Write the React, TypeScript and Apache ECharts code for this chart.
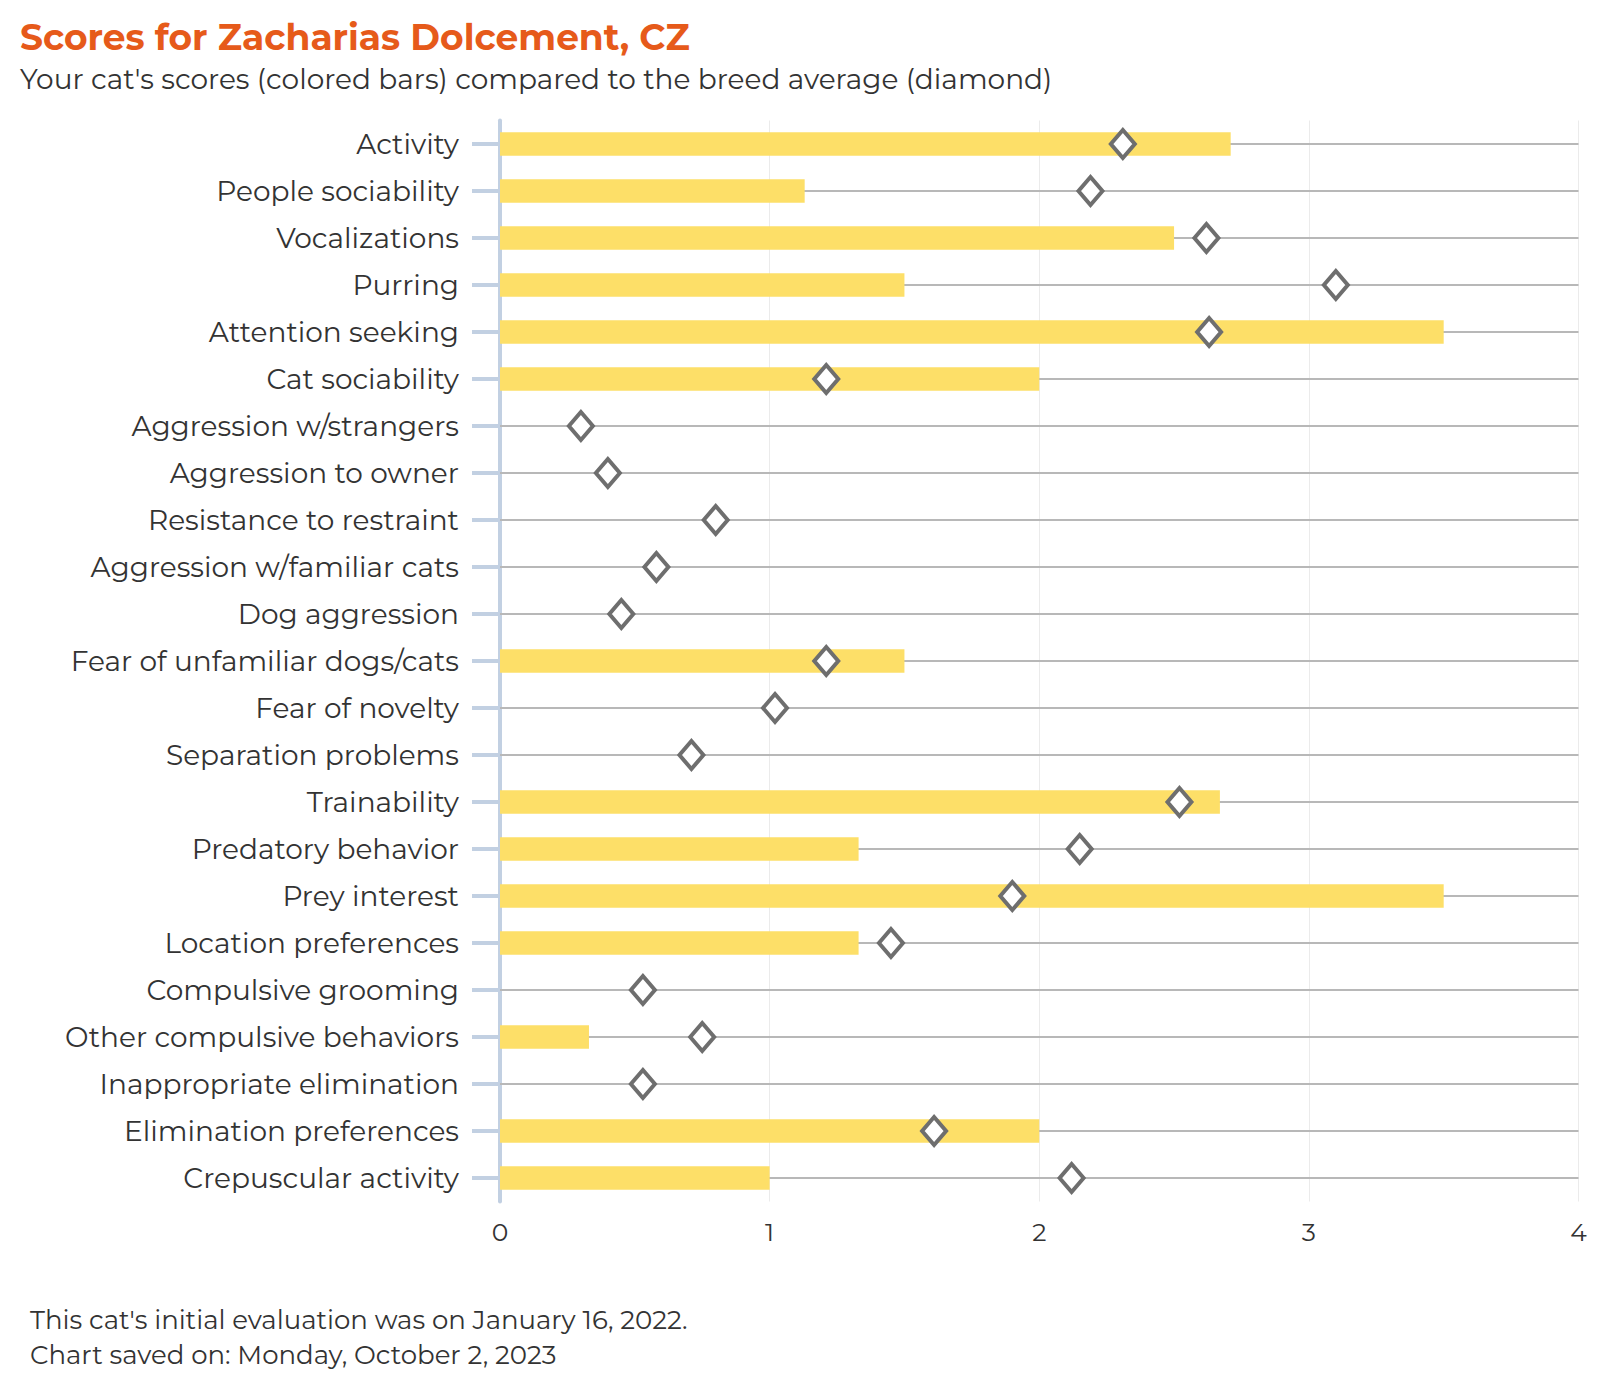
import React, { useEffect, useRef } from "react";
import * as echarts from "echarts";

const categories = [
  "Activity",
  "People sociability",
  "Vocalizations",
  "Purring",
  "Attention seeking",
  "Cat sociability",
  "Aggression w/strangers",
  "Aggression to owner",
  "Resistance to restraint",
  "Aggression w/familiar cats",
  "Dog aggression",
  "Fear of unfamiliar dogs/cats",
  "Fear of novelty",
  "Separation problems",
  "Trainability",
  "Predatory behavior",
  "Prey interest",
  "Location preferences",
  "Compulsive grooming",
  "Other compulsive behaviors",
  "Inappropriate elimination",
  "Elimination preferences",
  "Crepuscular activity",
];

const catScores = [
  2.71, 1.13, 2.5, 1.5, 3.5, 2, 0, 0, 0, 0, 0, 1.5, 0, 0, 2.67, 1.33, 3.5, 1.33, 0,
  0.33, 0, 2, 1,
];

const breedAverage = [
  2.31, 2.19, 2.62, 3.1, 2.63, 1.21, 0.3, 0.4, 0.8, 0.58, 0.45, 1.21, 1.02, 0.71,
  2.52, 2.15, 1.9, 1.45, 0.53, 0.75, 0.53, 1.61, 2.12,
];

const xMin = 0;
const xMax = 4;
const xInterval = 1;

const titleText = "Scores for Zacharias Dolcement, CZ";
const subtitleText =
  "Your cat's scores (colored bars) compared to the breed average (diamond)";
const footerLines = [
  "This cat's initial evaluation was on January 16, 2022.",
  "Chart saved on: Monday, October 2, 2023",
];

const FONT = "Montserrat, 'Open Sans', sans-serif";

export default function App() {
  const ref = useRef<HTMLDivElement>(null);

  useEffect(() => {
    if (!ref.current) return;
    const chart = echarts.init(ref.current, null, { renderer: "svg" });
    const option = {
      animation: false,
      backgroundColor: "#ffffff",
      textStyle: { fontFamily: FONT },
      grid: { left: 500, right: 21.5, top: 120.5, height: 1081, containLabel: false },
      xAxis: {
        type: "value",
        min: xMin,
        max: xMax,
        interval: xInterval,
        axisLine: { show: false },
        axisTick: { show: false },
        axisLabel: { color: "#333", fontSize: 25, margin: 18, fontFamily: FONT },
        splitLine: { show: true, lineStyle: { color: "#ebebeb", width: 1 } },
      },
      yAxis: {
        type: "category",
        data: categories,
        inverse: true,
        axisLine: { show: true, lineStyle: { color: "#c2d0e2", width: 4 } },
        axisTick: {
          show: true,
          alignWithLabel: true,
          length: 28,
          lineStyle: { color: "#c2d0e2", width: 4 },
        },
        axisLabel: { color: "#333", fontSize: 28, margin: 41, fontFamily: FONT },
        splitLine: { show: false },
      },
      graphic: [
        {
          type: "text",
          x: 20,
          y: 36.5,
          style: {
            text: titleText,
            fill: "#e65a1a",
            font: `bold 36px ${FONT}`,
            verticalAlign: "middle",
          },
        },
        {
          type: "text",
          x: 20,
          y: 78.5,
          style: {
            text: subtitleText,
            fill: "#333",
            font: `28px ${FONT}`,
            verticalAlign: "middle",
          },
        },
        {
          type: "text",
          x: 30,
          y: 1320,
          style: {
            text: footerLines[0],
            fill: "#333",
            font: `26px ${FONT}`,
            verticalAlign: "middle",
          },
        },
        {
          type: "text",
          x: 30,
          y: 1355,
          style: {
            text: footerLines[1],
            fill: "#333",
            font: `26px ${FONT}`,
            verticalAlign: "middle",
          },
        },
      ],
      series: [
        {
          type: "custom",
          z: 1,
          data: categories.map((c) => [xMax, c]),
          encode: { x: 0, y: 1 },
          renderItem: (params: any, api: any) => {
            const start = api.coord([xMin, api.value(1)]);
            const end = api.coord([api.value(0), api.value(1)]);
            return {
              type: "line",
              shape: { x1: start[0], y1: start[1], x2: end[0], y2: end[1] },
              style: { stroke: "#b8b8b8", lineWidth: 2 },
            };
          },
          silent: true,
        },
        {
          type: "bar",
          z: 2,
          data: catScores,
          barWidth: "50%",
          itemStyle: { color: "#fddf68" },
        },
        {
          type: "scatter",
          z: 3,
          data: breedAverage,
          symbol: "diamond",
          symbolSize: [24, 28],
          itemStyle: {
            color: "#ffffff",
            borderColor: "#6e6e6e",
            borderWidth: 4,
            opacity: 1,
          },
        },
      ],
    };
    chart.setOption(option as any);
    return () => chart.dispose();
  }, []);

  return (
    <div
      ref={ref}
      style={{ position: "fixed", left: 0, top: 0, width: 1600, height: 1400 }}
    />
  );
}
